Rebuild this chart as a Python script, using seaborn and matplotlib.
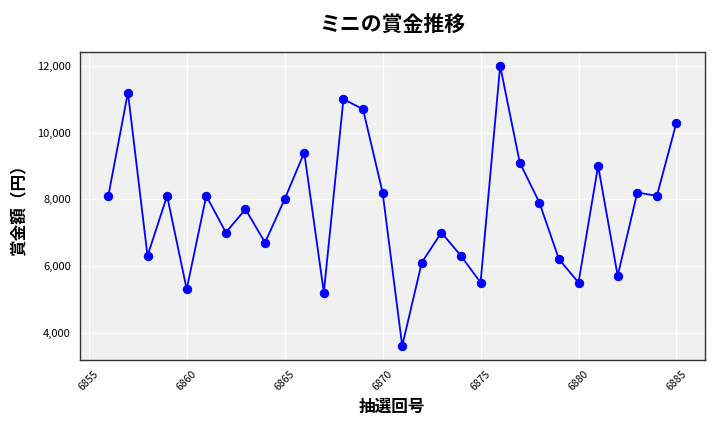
import matplotlib
matplotlib.use("Agg")
import matplotlib.pyplot as plt
import seaborn as sns
import pandas as pd
from matplotlib.ticker import FuncFormatter

draws = list(range(6856, 6886))
amounts = [8100, 11200, 6300, 8100, 5300, 8100, 7000, 7700, 6700, 8000,
           9400, 5200, 11000, 10700, 8200, 3600, 6100, 7000, 6300, 5500,
           12000, 9100, 7900, 6200, 5500, 9000, 5700, 8200, 8100, 10300]
title = "ミニの賞金推移"
xlabel = "抽選回号"
ylabel = "賞金額（円）"

sns.set_theme(style="darkgrid", rc={"axes.facecolor": "#f0f0f0", "grid.color": "white",
                                     "text.color": "black", "axes.labelcolor": "black",
                                     "xtick.color": "black", "ytick.color": "black"})
plt.rcParams['font.family'] = ['Noto Sans CJK JP', 'DejaVu Sans']

df = pd.DataFrame({"draw": draws, "amount": amounts})
fig, ax = plt.subplots(figsize=(7.2, 4.32), dpi=100)
sns.lineplot(data=df, x="draw", y="amount", marker="o", color="blue",
             markersize=6, markeredgecolor="blue", linewidth=1.3, ax=ax)
for s in ax.spines.values():
    s.set_visible(True)
    s.set_color("#333333")
    s.set_linewidth(1.0)
ax.set_title(title, fontsize=15, fontweight="bold", pad=15)
ax.set_xlabel(xlabel, fontsize=12, fontweight="bold", labelpad=4)
ax.set_ylabel(ylabel, fontsize=12, fontweight="bold", labelpad=6)
ax.yaxis.set_major_formatter(FuncFormatter(lambda v, p: f"{int(v):,}"))
ax.tick_params(axis="x", rotation=45, labelsize=7.5, length=3)
ax.tick_params(axis="y", labelsize=8, length=3)
ax.set_xticks(range(6855, 6890, 5))
fig.subplots_adjust(left=0.111, right=0.979, top=0.88, bottom=0.167)
fig.savefig("out.png", dpi=100)
